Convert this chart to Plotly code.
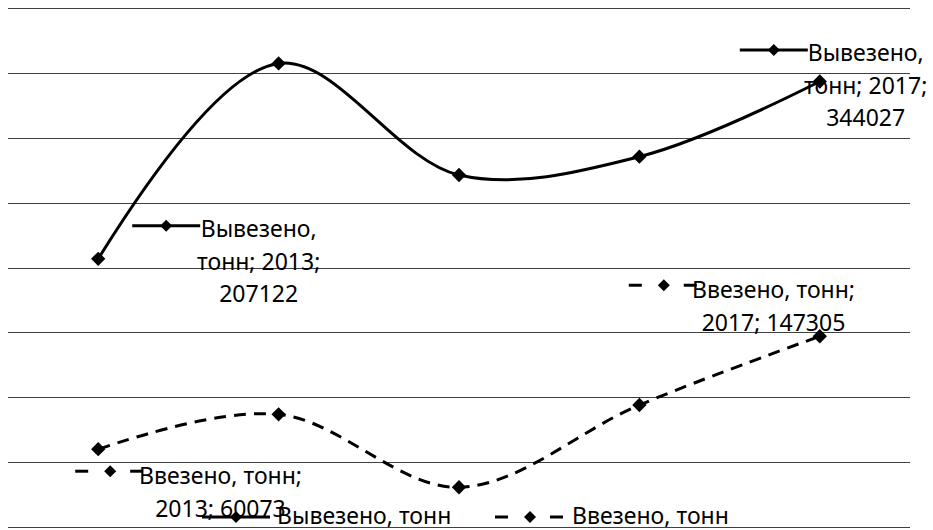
import plotly.graph_objects as go

# ---- data ----
years = [2013, 2014, 2015, 2016, 2017]
exported = [207122, 358000, 271800, 286000, 344027]
imported = [60073, 87000, 30700, 94200, 147305]
series_names = ["Вывезено, тонн", "Ввезено, тонн"]
y_ticks = [0, 50000, 100000, 150000, 200000, 250000, 300000, 350000, 400000]

FONT = "Noto Sans"
TXT = 23
series_values = [exported, imported]
series_dash = ["solid", "12px,8px"]

# plot area in pixels (for legend placement helpers)
ML, MR, MT, MB, W, H = 8, 23, 9, 3, 933, 530
PW, PH = W - ML - MR, H - MT - MB


def px_x(px):
    return (px - ML) / PW


def px_y(py):
    return (H - MB - py) / PH


fig = go.Figure()
for name, vals, dash in zip(series_names, series_values, series_dash):
    fig.add_trace(go.Scatter(
        x=years, y=vals, name=name, mode="lines+markers",
        line=dict(color="black", width=3, dash=dash, shape="spline", smoothing=1),
        marker=dict(symbol="diamond", size=11, color="black"),
        hoverinfo="skip", showlegend=False,
    ))

# data labels: (series, point index, block offset dx, dy (screen px, down +))
label_specs = [
    (0, 0, 160, 2),
    (0, 4, 46, 3.5),
    (1, 0, 122, 42),
    (1, 4, -46, -31),
]


def label_lines(s, i):
    name = series_names[s]
    first, rest = name.split(", ")
    if s == 0:
        return [first + ",", f"{rest}; {years[i]};", f"{series_values[s][i]}"]
    return [name + ";", f"{years[i]}; {series_values[s][i]}"]


def key_parts(s):
    """legend-key geometry relative to a key centre: segments and diamond x."""
    if s == 0:
        return [(-34, 34)], 0
    return [(-35, -22), (20, 33)], 0


annotations = []
shapes = []


def diamond_path(cx, cy, r=6):
    return f"M{cx - r},{cy} L{cx},{cy + r} L{cx + r},{cy} L{cx},{cy - r} Z"


for s, i, dx, dy in label_specs:
    lines = label_lines(s, i)
    text = "<br>".join(f"<span style='font-size:{TXT}px'>{ln}</span>" for ln in lines)
    annotations.append(dict(
        x=years[i], y=series_values[s][i], xref="x", yref="y",
        text=text, showarrow=False, xanchor="center", yanchor="middle",
        align="center", xshift=dx, yshift=-dy,
        font=dict(family=FONT, size=25, color="black"),
    ))
    # legend key in front of the label
    if s == 0:
        ky, kcx = -35, -92
    else:
        ky, kcx = -20, -110
    base = dict(xref="x", yref="y", xsizemode="pixel", ysizemode="pixel",
                xanchor=years[i], yanchor=series_values[s][i])
    oy = -(dy + ky)
    segs, dcx = key_parts(s)
    cx = dx + kcx
    for a, b in segs:
        shapes.append(dict(type="line", x0=cx + a, x1=cx + b, y0=oy, y1=oy,
                           line=dict(color="black", width=3), **base))
    shapes.append(dict(type="path", path=diamond_path(cx + dcx, oy),
                       fillcolor="black", line=dict(color="black", width=0), **base))

# legend drawn at the bottom (key + text per series)
legend_key_cx = [236, 530]
legend_text_x = [276, 571]
legend_y = 517
for s, name in enumerate(series_names):
    segs, dcx = key_parts(s)
    base = dict(xref="paper", yref="paper", xsizemode="pixel", ysizemode="pixel",
                xanchor=px_x(legend_key_cx[s]), yanchor=px_y(legend_y))
    for a, b in segs:
        shapes.append(dict(type="line", x0=a, x1=b, y0=0, y1=0,
                           line=dict(color="black", width=3), **base))
    shapes.append(dict(type="path", path=diamond_path(dcx, 0),
                       fillcolor="black", line=dict(color="black", width=0), **base))
    annotations.append(dict(
        x=px_x(legend_text_x[s]), y=px_y(legend_y - 2.5), xref="paper", yref="paper",
        text=name, showarrow=False, xanchor="left", yanchor="middle", borderpad=0,
        font=dict(family=FONT, size=TXT, color="black"),
    ))

fig.update_layout(
    width=W, height=H, autosize=False,
    margin=dict(l=ML, r=MR, t=MT, b=MB, pad=0, autoexpand=False),
    paper_bgcolor="white", plot_bgcolor="white",
    font=dict(family=FONT, size=TXT, color="black"),
    xaxis=dict(range=[2012.5, 2017.5], showgrid=False, showticklabels=False,
               zeroline=False, showline=True, mirror=True, linecolor="#404040",
               linewidth=1, ticks=""),
    yaxis=dict(range=[0, 400000], tickvals=y_ticks, showgrid=True,
               gridcolor="#404040", gridwidth=1, showticklabels=False,
               zeroline=False, showline=False, ticks=""),
    showlegend=False,
    annotations=annotations,
    shapes=shapes,
)

fig.write_html("out.html", config={"displayModeBar": False},
               post_script="document.body.style.margin='0px';")
